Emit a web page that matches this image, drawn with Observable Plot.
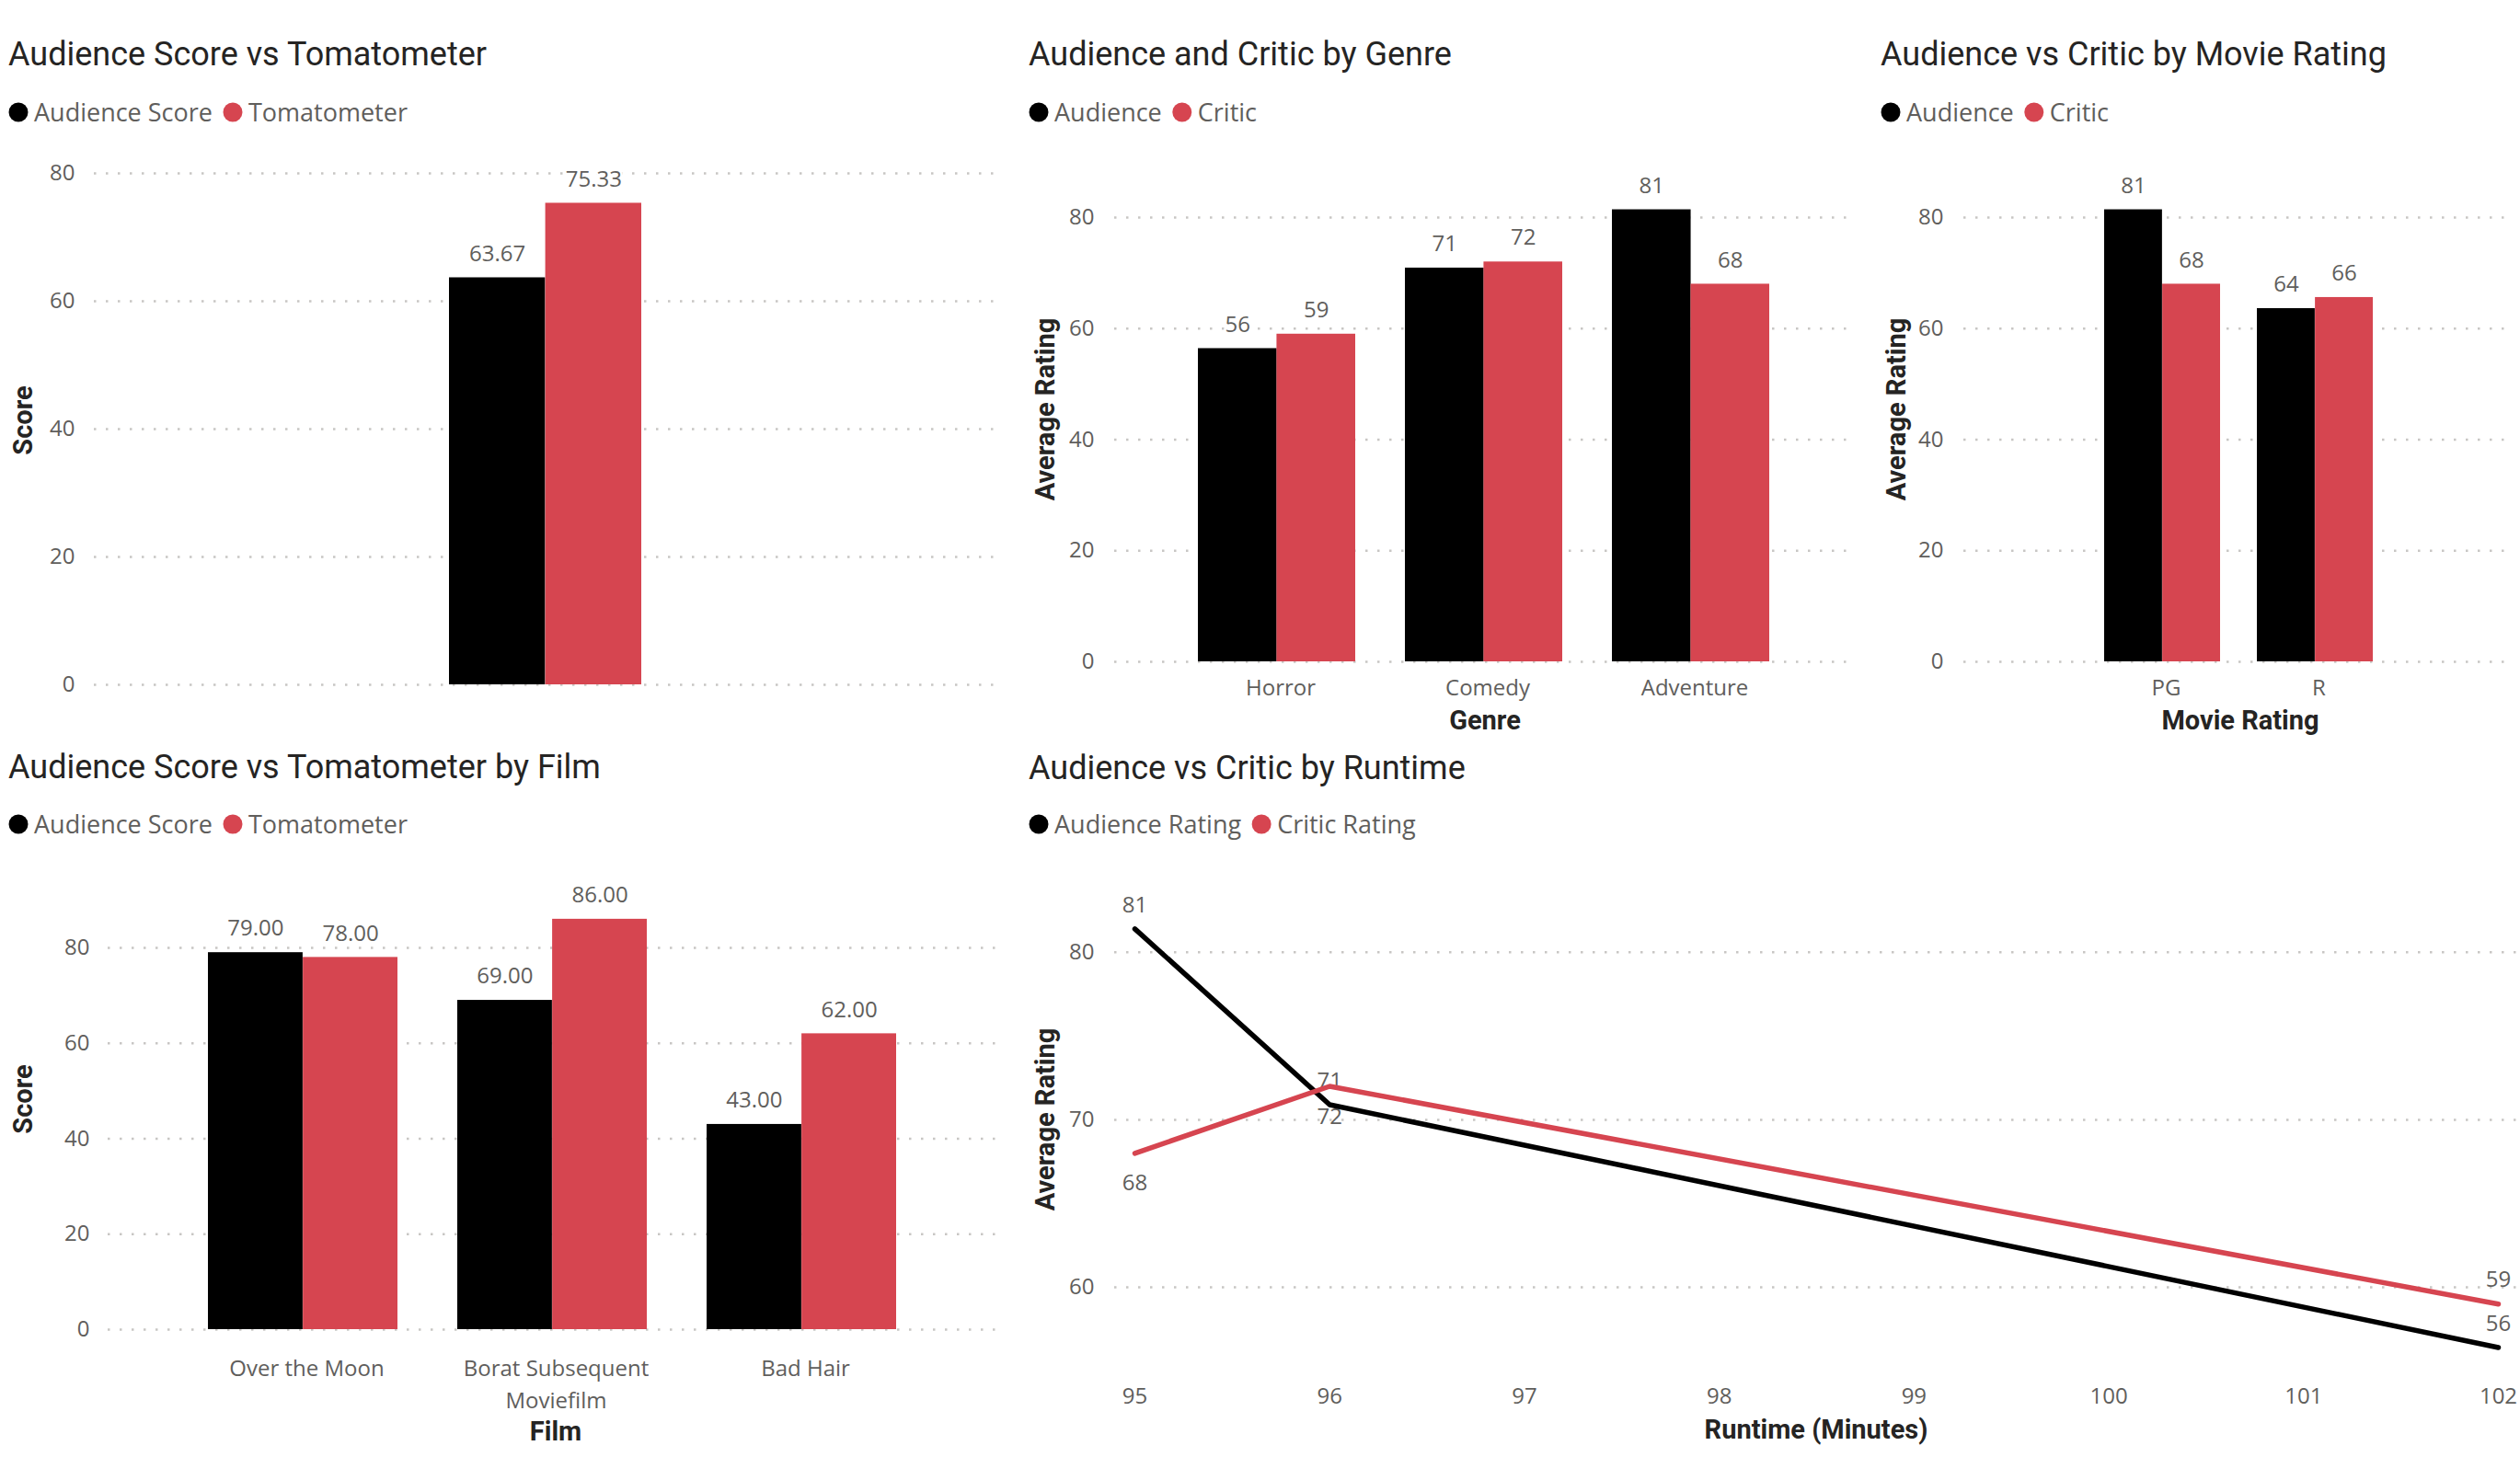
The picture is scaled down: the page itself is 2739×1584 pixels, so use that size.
<!DOCTYPE html>
<html>
<head>
<meta charset="utf-8">
<script src="https://cdn.jsdelivr.net/npm/d3@7"></script>
<script src="https://cdn.jsdelivr.net/npm/@observablehq/plot@0.6"></script>
<style>
  html, body { margin: 0; padding: 0; background: #ffffff; }
  #root { position: relative; width: 2739px; height: 1584px; overflow: hidden; background: #ffffff; }
</style>
</head>
<body>
<div id="root"></div>
<script>
// ---------------- DATA ----------------
const seriesScore = ["Audience Score", "Tomatometer"];
const seriesRating = ["Audience", "Critic"];
const seriesRuntime = ["Audience Rating", "Critic Rating"];

const overallCategory = ["All Films"];
const overallAudience = [63.67];
const overallTomatometer = [75.33];

const genres = ["Horror", "Comedy", "Adventure"];
const genreAudience = [56.4, 70.9, 81.4];
const genreCritic = [59, 72, 68];

const movieRatings = ["PG", "R"];
const movieRatingAudience = [81.4, 63.6];
const movieRatingCritic = [68, 65.6];

const films = ["Over the Moon", "Borat Subsequent Moviefilm", "Bad Hair"];
const filmAudience = [79, 69, 43];
const filmTomatometer = [78, 86, 62];

const runtimes = [95, 96, 102];
const runtimeAudience = [81.4, 70.9, 56.4];
const runtimeCritic = [68, 72, 59];
const runtimeAudienceLabelSide = ["above", "above", "above"];
const runtimeCriticLabelSide = ["below", "below", "above"];

const barTicks = [0, 20, 40, 60, 80];
const runtimeYTicks = [60, 70, 80];
const runtimeXTicks = [95, 96, 97, 98, 99, 100, 101, 102];

// ---------------- STYLE ----------------
const seriesColors = ["#000000", "#D64550"];
const textGray = "#605E5C";
const darkText = "#252423";
const tickFont = "'Open Sans', 'Noto Sans', sans-serif";
const titleFont = "Roboto, 'Open Sans', sans-serif";
const plotStyle = {fontFamily: tickFont, fontSize: "24px", color: textGray, background: "transparent", overflow: "visible"};
const gridStyle = {stroke: "#C8C6C4", strokeOpacity: 1, strokeWidth: 2.5, strokeDasharray: "2.5,10.5"};
const labelStyle = {fill: textGray, stroke: "white", strokeWidth: 5, paintOrder: "stroke"};

const root = document.getElementById("root");
function place(node, left, top) {
  node.style.position = "absolute";
  node.style.left = left + "px";
  node.style.top = top + "px";
  root.appendChild(node);
}
const wrapLabel = d => (d.length > 16 ? d.replace(/ (\S+)$/, "\n$1") : d);

function barPanel(cfg) {
  const {categories, first, second, names, format, left, top, width, height,
         frameLeft, frameRight, y80, y0, paddingInner, paddingOuter,
         yTickPadding, showX, xTickPadding, lineHeight = 1} = cfg;
  const marginLeft = frameLeft - left;
  const marginRight = left + width - frameRight;
  const marginTop = y80 - top;
  const marginBottom = top + height - y0;
  const rowsA = categories.map((c, i) => ({category: c, series: names[0], value: first[i]}));
  const rowsB = categories.map((c, i) => ({category: c, series: names[1], value: second[i]}));
  const xOpts = {type: "band", domain: categories, paddingInner, paddingOuter};
  const bw = Plot.scale({x: {...xOpts, range: [marginLeft, width - marginRight]}}).bandwidth;
  const svg = Plot.plot({
    width, height, marginLeft, marginRight, marginTop, marginBottom,
    style: plotStyle,
    x: showX ? xOpts : {...xOpts, axis: null},
    y: {domain: [0, 80]},
    color: {domain: names, range: seriesColors},
    marks: [
      Plot.gridY(barTicks, gridStyle),
      Plot.axisY(barTicks, {tickSize: 0, tickPadding: yTickPadding, label: null}),
      showX ? Plot.axisX({tickSize: 0, tickPadding: xTickPadding, label: null, tickFormat: wrapLabel, lineHeight, dx: 4}) : null,
      Plot.barY(rowsA, {x: "category", y: "value", fill: "series", insetRight: bw / 2}),
      Plot.barY(rowsB, {x: "category", y: "value", fill: "series", insetLeft: bw / 2}),
      Plot.text(rowsA, {x: "category", y: "value", text: d => format(d.value), dx: -bw / 4, dy: -26, ...labelStyle}),
      Plot.text(rowsB, {x: "category", y: "value", text: d => format(d.value), dx: bw / 4, dy: -26, ...labelStyle})
    ]
  });
  place(svg, left, top);
}

const f2 = d3.format(".2f");
const f0 = d3.format(".0f");

// Panel 1
barPanel({categories: overallCategory, first: overallAudience, second: overallTomatometer, names: seriesScore,
  format: f2, left: 0, top: 150, width: 1095, height: 620, frameLeft: 102, frameRight: 1082,
  y80: 188, y0: 744, paddingInner: 0.24, paddingOuter: 1.40, yTickPadding: 21, showX: false});

// Panel 2
barPanel({categories: genres, first: genreAudience, second: genreCritic, names: seriesRating,
  format: f0, left: 1100, top: 150, width: 940, height: 680, frameLeft: 1211, frameRight: 2013,
  y80: 236, y0: 719, paddingInner: 0.242, paddingOuter: 0.4, yTickPadding: 22, showX: true, xTickPadding: 19});

// Panel 3
barPanel({categories: movieRatings, first: movieRatingAudience, second: movieRatingCritic, names: seriesRating,
  format: f0, left: 2030, top: 150, width: 709, height: 680, frameLeft: 2134, frameRight: 2732,
  y80: 236, y0: 719, paddingInner: 0.24, paddingOuter: 0.92, yTickPadding: 22, showX: true, xTickPadding: 19});

// Panel 4
barPanel({categories: films, first: filmAudience, second: filmTomatometer, names: seriesScore,
  format: f2, left: 0, top: 940, width: 1095, height: 644, frameLeft: 117, frameRight: 1083,
  y80: 1030, y0: 1445, paddingInner: 0.24, paddingOuter: 0.40, yTickPadding: 20, showX: true,
  xTickPadding: 26, lineHeight: 1.46});

// Panel 5 (line)
{
  const rows = [];
  runtimes.forEach((r, i) => {
    rows.push({runtime: r, series: seriesRuntime[0], value: runtimeAudience[i], side: runtimeAudienceLabelSide[i]});
  });
  runtimes.forEach((r, i) => {
    rows.push({runtime: r, series: seriesRuntime[1], value: runtimeCritic[i], side: runtimeCriticLabelSide[i]});
  });
  const svg = Plot.plot({
    width: 1639, height: 644, marginLeft: 111, marginRight: 4, marginTop: 22, marginBottom: 94,
    style: plotStyle,
    x: {domain: [95, 102], insetLeft: 22, insetRight: 20},
    y: {domain: [55, 84]},
    color: {domain: seriesRuntime, range: seriesColors},
    marks: [
      Plot.gridY(runtimeYTicks, gridStyle),
      Plot.axisY(runtimeYTicks, {tickSize: 0, tickPadding: 22, label: null}),
      Plot.axisX(runtimeXTicks, {tickSize: 0, tickPadding: 18, label: null, tickFormat: f0}),
      Plot.text(rows.filter(d => d.side === "above"), {x: "runtime", y: "value", text: d => f0(d.value), dy: -26, fill: textGray}),
      Plot.text(rows.filter(d => d.side === "below"), {x: "runtime", y: "value", text: d => f0(d.value), dy: 33, fill: textGray}),
      Plot.line(rows, {x: "runtime", y: "value", z: "series", stroke: "series", strokeWidth: 5.5,
        strokeLinecap: "round", strokeLinejoin: "round"})
    ]
  });
  place(svg, 1100, 940);
}

// ---------------- TITLES, LEGENDS, AXIS TITLES ----------------
const overlay = d3.select(root).append("svg")
  .attr("width", 2739).attr("height", 1584)
  .style("position", "absolute").style("left", "0px").style("top", "0px")
  .style("pointer-events", "none");

const titles = [
  {text: "Audience Score vs Tomatometer", x: 9, y: 71},
  {text: "Audience and Critic by Genre", x: 1118, y: 71},
  {text: "Audience vs Critic by Movie Rating", x: 2044, y: 71},
  {text: "Audience Score vs Tomatometer by Film", x: 9, y: 846},
  {text: "Audience vs Critic by Runtime", x: 1118, y: 847}
];
overlay.selectAll("text.title").data(titles).join("text")
  .attr("class", "title")
  .attr("x", d => d.x).attr("y", d => d.y)
  .attr("font-family", titleFont).attr("font-size", 36).attr("fill", darkText)
  .text(d => d.text);

const legends = [
  {names: seriesScore, x: 20, y: 122},
  {names: seriesRating, x: 1129, y: 122},
  {names: seriesRating, x: 2055, y: 122},
  {names: seriesScore, x: 20, y: 896},
  {names: seriesRuntime, x: 1129, y: 896}
];
legends.forEach(lg => {
  let cx = lg.x;
  lg.names.forEach((name, i) => {
    overlay.append("circle").attr("cx", cx).attr("cy", lg.y).attr("r", 10.5).attr("fill", seriesColors[i]);
    const t = overlay.append("text")
      .attr("x", cx + 17).attr("y", lg.y + 10)
      .attr("font-family", tickFont).attr("font-size", 27).attr("fill", textGray)
      .text(name);
    const w = t.node().getComputedTextLength();
    cx = cx + 17 + w + 22;
  });
});

const axisTitles = [
  {text: "Score", x: 25, y: 457, rotate: true},
  {text: "Score", x: 25, y: 1195, rotate: true},
  {text: "Average Rating", x: 1136, y: 445, rotate: true},
  {text: "Average Rating", x: 2061, y: 445, rotate: true},
  {text: "Average Rating", x: 1136, y: 1217, rotate: true},
  {text: "Genre", x: 1614, y: 793, rotate: false},
  {text: "Movie Rating", x: 2435, y: 793, rotate: false},
  {text: "Film", x: 604, y: 1566, rotate: false},
  {text: "Runtime (Minutes)", x: 1974, y: 1564, rotate: false}
];
axisTitles.forEach(a => {
  const t = overlay.append("text")
    .attr("font-family", titleFont).attr("font-size", 29).attr("font-weight", 700)
    .attr("fill", darkText).attr("text-anchor", "middle")
    .text(a.text);
  if (a.rotate) {
    t.attr("dominant-baseline", "central")
     .attr("transform", `translate(${a.x},${a.y}) rotate(-90)`);
  } else {
    t.attr("x", a.x).attr("y", a.y);
  }
});
</script>
</body>
</html>
